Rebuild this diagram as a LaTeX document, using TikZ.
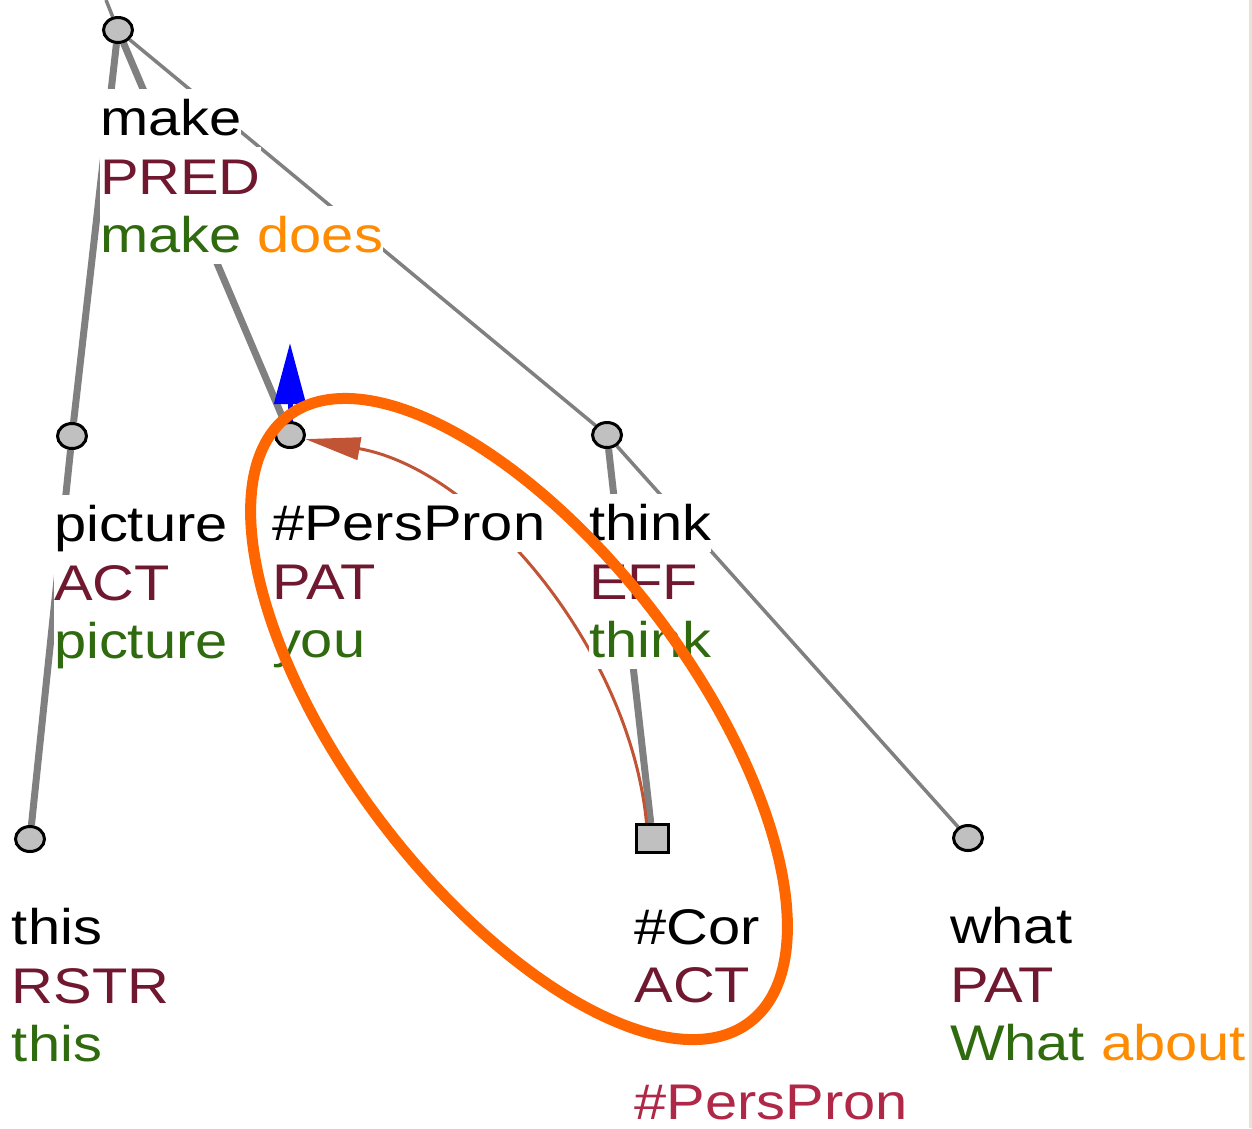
\documentclass[tikz,border=0pt]{standalone}
\usepackage{fontspec}
\setmainfont[FakeStretch=1.155]{Liberation Sans}
\usetikzlibrary{positioning,shapes.geometric,arrows.meta,backgrounds}
\definecolor{edgegray}{HTML}{808080}
\definecolor{nodegray}{HTML}{C0C0C0}
\definecolor{functor}{HTML}{701830}
\definecolor{surface}{HTML}{2F6A0E}
\definecolor{auxword}{HTML}{FF8C00}
\definecolor{perscol}{HTML}{B02848}
\definecolor{corefred}{HTML}{C05434}
\definecolor{ringorange}{HTML}{FF6600}
\definecolor{framebeige}{HTML}{E6E4D4}

\tikzset{
  tnode/.style={ellipse, draw=black, fill=nodegray, line width=0.06cm,
    minimum width=0.58cm, minimum height=0.5cm, inner sep=0pt},
  cnode/.style={rectangle, draw=black, fill=nodegray, line width=0.06cm,
    minimum width=0.64cm, minimum height=0.56cm, inner sep=0pt},
  lbl/.style={anchor=north west, fill=white, inner sep=0pt, outer sep=0pt,
    text height=0.94cm, text depth=0.23cm, font=\fontsize{28.5}{34}\selectfont},
  treeedge/.style={draw=edgegray, line width=0.14cm},
  thinedge/.style={draw=edgegray, line width=0.07cm},
  corefedge/.style={draw=corefred, line width=0.06cm,
    -{Triangle[length=1.1cm, width=0.45cm]}},
  focusarrow/.style={draw=blue, line width=0.1cm,
    -{Triangle[length=1.22cm, width=0.62cm]}},
  ring/.style={draw=ringorange, line width=0.22cm}
}

\begin{document}
\begin{tikzpicture}[on grid]
  \useasboundingbox (0,0) rectangle (25.04,-22.56);
  % tree nodes
  \node[tnode] (make) at (2.36,-0.60) {};
  \node[tnode, below left=8.12cm and 0.92cm of make] (picture) {};
  \node[tnode, below right=8.1cm and 3.44cm of make] (perspron) {};
  \node[tnode, below right=8.1cm and 9.78cm of make] (think) {};
  \node[tnode, below left=8.06cm and 0.84cm of picture] (this) {};
  \node[cnode, below right=8.07cm and 0.91cm of think] (cor) {};
  \node[tnode, below right=8.06cm and 7.22cm of think] (what) {};
  \coordinate (up) at (2.12,0);

  % edges
  \begin{scope}[on background layer]
    \draw[thinedge] (make) -- (up);
    \draw[treeedge] (make) -- (picture) -- (this);
    \draw[treeedge] (make) -- (perspron);
    \draw[thinedge] (make) -- (think) -- (what);
    \draw[treeedge] (think) -- (cor);
    \draw[corefedge] ([xshift=-0.12cm]cor.north) .. controls (12.6,-13.0) and (9.6,-9.4) .. (perspron.-15);
  \end{scope}

  % labels
  \node[lbl] (make1) at ([shift={(-0.36,-1.17)}]make.center) {make};
  \node[lbl, text=functor] (make2) at (make1.south west) {PRED};
  \node[lbl, text=surface] (make3) at (make2.south west) {make \textcolor{auxword}{does}};

  \node[lbl] (picture1) at ([shift={(-0.36,-1.17)}]picture.center) {picture};
  \node[lbl, text=functor] (picture2) at (picture1.south west) {ACT};
  \node[lbl, text=surface] (picture3) at (picture2.south west) {picture};

  \node[lbl] (perspron1) at ([shift={(-0.36,-1.17)}]perspron.center) {\#PersPron};
  \node[lbl, text=functor] (perspron2) at (perspron1.south west) {PAT};
  \node[lbl, text=surface] (perspron3) at (perspron2.south west) {you};

  \node[lbl] (think1) at ([shift={(-0.36,-1.17)}]think.center) {think};
  \node[lbl, text=functor] (think2) at (think1.south west) {EFF};
  \node[lbl, text=surface] (think3) at (think2.south west) {think};

  \node[lbl] (this1) at ([shift={(-0.36,-1.17)}]this.center) {this};
  \node[lbl, text=functor] (this2) at (this1.south west) {RSTR};
  \node[lbl, text=surface] (this3) at (this2.south west) {this};

  \node[lbl] (cor1) at ([shift={(-0.36,-1.17)}]cor.center) {\#Cor};
  \node[lbl, text=functor] (cor2) at (cor1.south west) {ACT};
  \node[lbl, text=perscol, text depth=0.08cm] (cor4) at ([yshift=-1.17cm]cor2.south west) {\#PersPron};

  \node[lbl] (what1) at ([shift={(-0.36,-1.17)}]what.center) {what};
  \node[lbl, text=functor] (what2) at (what1.south west) {PAT};
  \node[lbl, text=surface] (what3) at (what2.south west) {What \textcolor{auxword}{about}};

  % marks
  \draw[focusarrow] (perspron.north) -- ++(0,1.56);
  \draw[ring, rotate around={-52.7:(10.38,-14.38)}] (10.38,-14.38) ellipse [x radius=7.62, y radius=3.44];
  \draw[framebeige, line width=0.06cm] (25.01,0) -- (25.01,-22.56);
\end{tikzpicture}
\end{document}
